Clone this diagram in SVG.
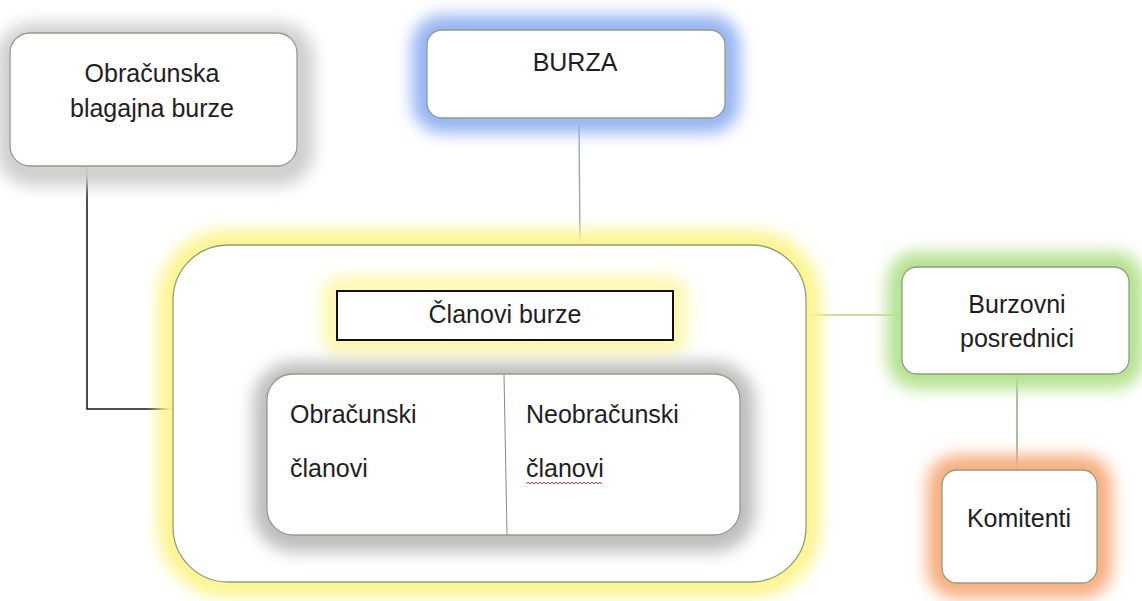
<svg xmlns="http://www.w3.org/2000/svg" width="1142" height="601" viewBox="0 0 1142 601">
<defs>
<filter id="glow" x="-50%" y="-100%" width="200%" height="300%"><feGaussianBlur stdDeviation="8"/></filter>
<style>
.box{fill:#ffffff;stroke:#8f9e80;stroke-width:1.3}
.t{font-family:"Liberation Sans",Arial,sans-serif;font-size:25px;fill:#1e1e1e}
.c{text-anchor:middle}
.g{fill:none;stroke-width:30;filter:url(#glow)}
</style>
</defs>
<rect width="1142" height="601" fill="#ffffff"/>
<g id="connectors" fill="none">
<polyline points="87,166 87,409 173,409" stroke="#111" stroke-width="1.5"/>
<line x1="579" y1="124" x2="580" y2="245" stroke="#8fa3bb" stroke-width="1.3"/>
<line x1="806" y1="315" x2="902" y2="315" stroke="#c9cf7a" stroke-width="1.3"/>
<line x1="1017" y1="374" x2="1017" y2="470" stroke="#7f9a6c" stroke-width="1.3"/>
</g>
<g id="obracunska">
<rect x="12" y="38" width="287" height="133" rx="20" class="g" stroke="#cfcfcf"/>
<rect x="10" y="33" width="287" height="133" rx="20" class="box" fill="#fcfdf8"/>
<text class="t c" x="152" y="82">Obračunska</text>
<text class="t c" x="152" y="117">blagajna burze</text>
</g>
<g id="burza">
<rect x="427" y="30" width="298" height="88" rx="15" class="g" stroke="#94b4f3"/>
<rect x="427" y="30" width="298" height="88" rx="15" class="box"/>
<text class="t c" x="575" y="71">BURZA</text>
</g>
<g id="clanovi-burze-group">
<rect x="173" y="245" width="633" height="337" rx="55" class="g" stroke="#fbf48c"/>
<rect x="173" y="245" width="633" height="337" rx="55" class="box" stroke="#a8ae86"/>
<g id="clanovi-burze">
<rect x="337" y="291" width="336" height="49" rx="4" class="g" stroke="#fdf8b0" stroke-width="14"/>
<rect x="337" y="291" width="336" height="49" fill="#fff" stroke="#111" stroke-width="2"/>
<text class="t c" x="505" y="323">Članovi burze</text>
</g>
<g id="clanovi-inner">
<rect x="268" y="377" width="472" height="160" rx="26" class="g" stroke="#bdbdbd" stroke-width="26"/>
<rect x="267" y="374" width="473" height="161" rx="26" class="box"/>
<line x1="504" y1="375" x2="507" y2="534" stroke="#888" stroke-width="1"/>
<text class="t" x="290" y="423">Obračunski</text>
<text class="t" x="290" y="477">članovi</text>
<text class="t" x="526" y="423">Neobračunski</text>
<text class="t" x="526" y="477">članovi</text>
<path d="M526,484 l2,-2 l2,2 l2,-2 l2,2 l2,-2 l2,2 l2,-2 l2,2 l2,-2 l2,2 l2,-2 l2,2 l2,-2 l2,2 l2,-2 l2,2 l2,-2 l2,2 l2,-2 l2,2 l2,-2 l2,2 l2,-2 l2,2 l2,-2 l2,2 l2,-2 l2,2 l2,-2 l2,2 l2,-2 l2,2 l2,-2 l2,2 l2,-2 l2,2 l2,-2 l2,2" fill="none" stroke="#d23a3a" stroke-width="1"/>
</g>
</g>
<g id="burzovni">
<rect x="902" y="267" width="227" height="107" rx="15" class="g" stroke="#b4e28f"/>
<rect x="902" y="267" width="227" height="107" rx="15" class="box"/>
<text class="t c" x="1017" y="313">Burzovni</text>
<text class="t c" x="1017" y="347">posrednici</text>
</g>
<g id="komitenti">
<rect x="942" y="470" width="155" height="113" rx="15" class="g" stroke="#f6ad7e"/>
<rect x="942" y="470" width="155" height="113" rx="15" class="box"/>
<text class="t c" x="1019" y="527">Komitenti</text>
</g>
</svg>
